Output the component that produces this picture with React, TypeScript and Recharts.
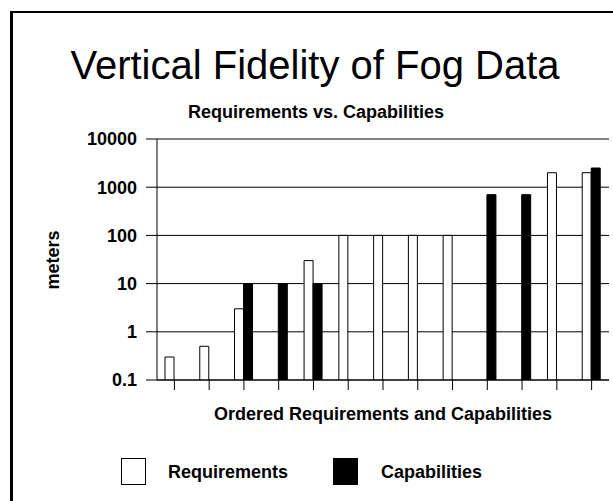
import React from "react";
import { BarChart, Bar, XAxis, YAxis, CartesianGrid } from "recharts";

// ordered requirement / capability slots, left to right
const slots = ["1", "2", "3", "4", "5", "6", "7", "8", "9", "10", "11", "12", "13"];
// meters (null = no bar in that slot)
const requirements = [0.3, 0.5, 3, null, 30, 100, 100, 100, 100, null, null, 2000, 2000];
const capabilities = [null, null, 10, 10, 10, null, null, null, null, 700, 700, null, 2500];
const yTicks = [0.1, 1, 10, 100, 1000, 10000];

const FONT = '"Liberation Sans", Arial, sans-serif';

export default function App() {
  const data = slots.map((slot, i) => ({
    slot,
    req: requirements[i],
    cap: capabilities[i],
  }));

  const label: React.CSSProperties = {
    position: "absolute",
    fontFamily: FONT,
    fontWeight: "bold",
    fontSize: 18,
    lineHeight: 1,
    whiteSpace: "nowrap",
    color: "#000",
  };

  return (
    <div
      style={{
        position: "absolute",
        left: 0,
        top: 0,
        width: 613,
        height: 501,
        overflow: "hidden",
        background: "#fff",
        fontFamily: FONT,
      }}
    >
      {/* page frame, only left and top edges fall inside the picture */}
      <div
        style={{
          position: "absolute",
          left: 10,
          top: 11,
          width: 700,
          height: 600,
          borderLeft: "3px solid #000",
          borderTop: "2px solid #000",
        }}
      />

      <div
        style={{
          position: "absolute",
          left: 0,
          width: 630,
          top: 45,
          textAlign: "center",
          fontSize: 40,
          lineHeight: 1,
          whiteSpace: "nowrap",
        }}
      >
        Vertical Fidelity of Fog Data
      </div>
      <div style={{ ...label, left: 0, width: 632, top: 103, textAlign: "center" }}>
        Requirements vs. Capabilities
      </div>

      <BarChart
        width={613}
        height={501}
        data={data}
        margin={{ top: 139, right: 4, bottom: 91, left: 0 }}
        barSize={9}
        barGap={0}
        style={{ position: "absolute", left: 0, top: 0 }}
      >
        <CartesianGrid vertical={false} stroke="#000" strokeWidth={1} />
        <XAxis
          dataKey="slot"
          height={30}
          axisLine={{ stroke: "#000" }}
          tickLine={{ stroke: "#000" }}
          tickSize={10}
          tickFormatter={() => ""}
        />
        <YAxis
          scale="log"
          domain={[0.1, 10000]}
          ticks={yTicks}
          allowDataOverflow
          width={157}
          axisLine={{ stroke: "#000" }}
          tickLine={{ stroke: "#000" }}
          tickSize={11}
          tickMargin={9}
          tick={{ fill: "#000", fontSize: 18, fontWeight: "bold", fontFamily: FONT }}
        />
        <Bar dataKey="req" fill="#fff" stroke="#000" strokeWidth={1} isAnimationActive={false} />
        <Bar dataKey="cap" fill="#000" stroke="#000" strokeWidth={1} isAnimationActive={false} />
      </BarChart>

      <div
        style={{
          ...label,
          left: 53,
          top: 260,
          transform: "translate(-50%, -50%) rotate(-90deg)",
        }}
      >
        meters
      </div>

      <div style={{ ...label, left: 157, width: 452, top: 405, textAlign: "center" }}>
        Ordered Requirements and Capabilities
      </div>

      {/* legend */}
      <div
        style={{
          position: "absolute",
          left: 121,
          top: 458,
          width: 23,
          height: 25,
          border: "1px solid #000",
          background: "#fff",
        }}
      />
      <div style={{ ...label, left: 168, top: 463 }}>Requirements</div>
      <div
        style={{
          position: "absolute",
          left: 333,
          top: 458,
          width: 25,
          height: 27,
          background: "#000",
        }}
      />
      <div style={{ ...label, left: 381, top: 463 }}>Capabilities</div>
    </div>
  );
}
